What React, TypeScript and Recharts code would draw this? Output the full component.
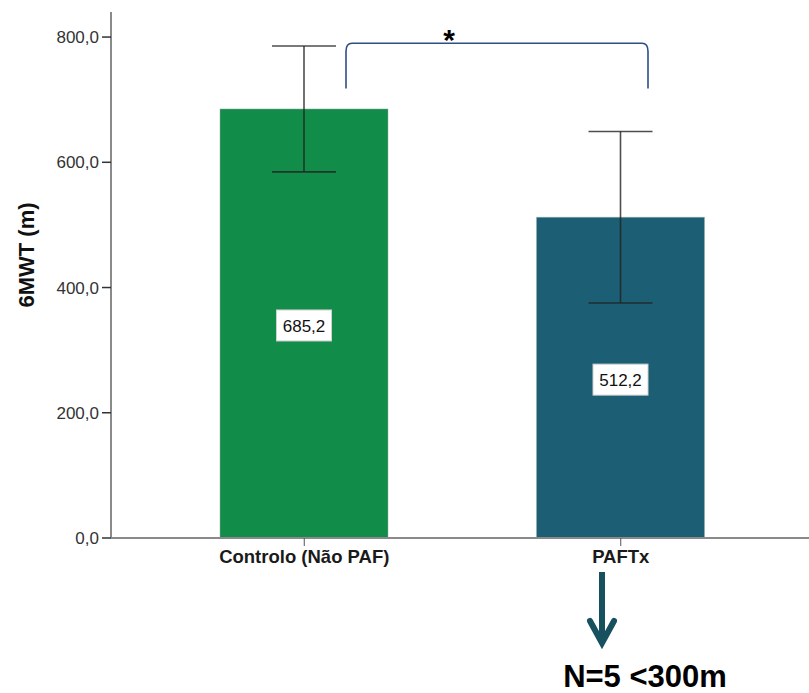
import React from 'react';
import { BarChart, Bar, XAxis, YAxis, ErrorBar, LabelList, Cell } from 'recharts';

const categories = ['Controlo (Não PAF)', 'PAFTx'];
const means = [685.2, 512.2];
const errors = [100.5, 137];
const barColors = ['#118C49', '#1C5E74'];
const yTicks = [0, 200, 400, 600, 800];

const data = categories.map((c, i) => ({ name: c, value: means[i], err: errors[i] }));

const W = 809;
const H = 693;
const X_AXIS_H = 30;
const MARGIN = { top: 12, right: 0, bottom: 125, left: 0 };
const Y_AXIS_W = 111;
const Y_MAX = 840;
const FONT = 'Liberation Sans, Arial, sans-serif';

const plotTop = MARGIN.top;
const plotBottom = H - MARGIN.bottom - X_AXIS_H;
const yPx = (v: number) => plotBottom - (v / Y_MAX) * (plotBottom - plotTop);

const fmt = (v: number) => v.toFixed(1).replace('.', ',');

const ValueBox = (props: any) => {
  const { x, y, width, height, value } = props;
  const cx = x + width / 2;
  const cy = y + height / 2 + 2;
  const bw = 55;
  const bh = 31;
  return (
    <g>
      <rect x={cx - bw / 2} y={cy - bh / 2} width={bw} height={bh} fill="#ffffff" stroke="#d0d0d0" strokeWidth={1} />
      <text x={cx} y={cy + 1} textAnchor="middle" dominantBaseline="central" fontSize={17} fontFamily={FONT} fill="#111">
        {fmt(Number(value))}
      </text>
    </g>
  );
};

const YLabel = (props: any) => {
  const vb = props.viewBox || { x: 0, y: 0, width: 0, height: 0 };
  const x = vb.x + 34;
  const y = vb.y + vb.height / 2 - 20;
  return (
    <text x={x} y={y} transform={`rotate(-90, ${x}, ${y})`} textAnchor="middle" fontSize={22} fontWeight="bold" fontFamily={FONT} fill="#111">
      6MWT (m)
    </text>
  );
};

export default function App() {
  const bracketY = yPx(790);
  const bracketBottom = yPx(718);
  const bx1 = 346;
  const bx2 = 648;
  return (
    <div style={{ position: 'absolute', left: 0, top: 0, width: W, height: H, background: '#fff' }}>
      <BarChart width={W} height={H} data={data} margin={MARGIN} barSize={168}>
        <XAxis
          dataKey="name"
          height={X_AXIS_H}
          padding={{ left: 35, right: 30 }}
          axisLine={{ stroke: '#8a8a8a', strokeWidth: 2 }}
          tickLine={{ stroke: '#555' }}
          tickSize={8}
          tickMargin={4}
          tick={{ fontSize: 18.5, fontWeight: 'bold', fontFamily: FONT, fill: '#1a1a1a' }}
        />
        <YAxis
          width={Y_AXIS_W}
          domain={[0, Y_MAX]}
          ticks={yTicks}
          tickFormatter={fmt}
          axisLine={{ stroke: '#8a8a8a', strokeWidth: 2 }}
          tickLine={{ stroke: '#333', strokeWidth: 1.5 }}
          tickSize={9}
          tickMargin={3}
          tick={{ fontSize: 17, fontFamily: FONT, fill: '#333' }}
          label={<YLabel />}
        />
        <Bar dataKey="value" isAnimationActive={false} stroke="#9aa" strokeWidth={0.5}>
          {data.map((d, i) => (
            <Cell key={d.name} fill={barColors[i]} />
          ))}
          <ErrorBar dataKey="err" direction="y" width={32} stroke="#222" strokeOpacity={0.8} strokeWidth={1.6} />
          <LabelList dataKey="value" content={<ValueBox />} />
        </Bar>
      </BarChart>
      <svg width={W} height={H} style={{ position: 'absolute', left: 0, top: 0, pointerEvents: 'none' }}>
        <path
          d={`M ${bx1} ${bracketBottom} L ${bx1} ${bracketY + 8} Q ${bx1} ${bracketY} ${bx1 + 6} ${bracketY} L ${bx2 - 6} ${bracketY} Q ${bx2} ${bracketY} ${bx2} ${bracketY + 8} L ${bx2} ${bracketBottom}`}
          fill="none"
          stroke="#2E4E86"
          strokeWidth={1.6}
        />
        <text x={449} y={50} textAnchor="middle" fontSize={30} fontWeight="bold" fontFamily={FONT} fill="#000">
          *
        </text>
        <line x1={602} y1={572} x2={602} y2={642} stroke="#17505F" strokeWidth={6} />
        <polyline points="590,621 602,643 614,621" fill="none" stroke="#17505F" strokeWidth={6} strokeLinecap="round" strokeLinejoin="miter" />
        <text x={645} y={687} textAnchor="middle" fontSize={31} fontWeight="bold" fontFamily={FONT} fill="#000">
          N=5 &lt;300m
        </text>
      </svg>
    </div>
  );
}
